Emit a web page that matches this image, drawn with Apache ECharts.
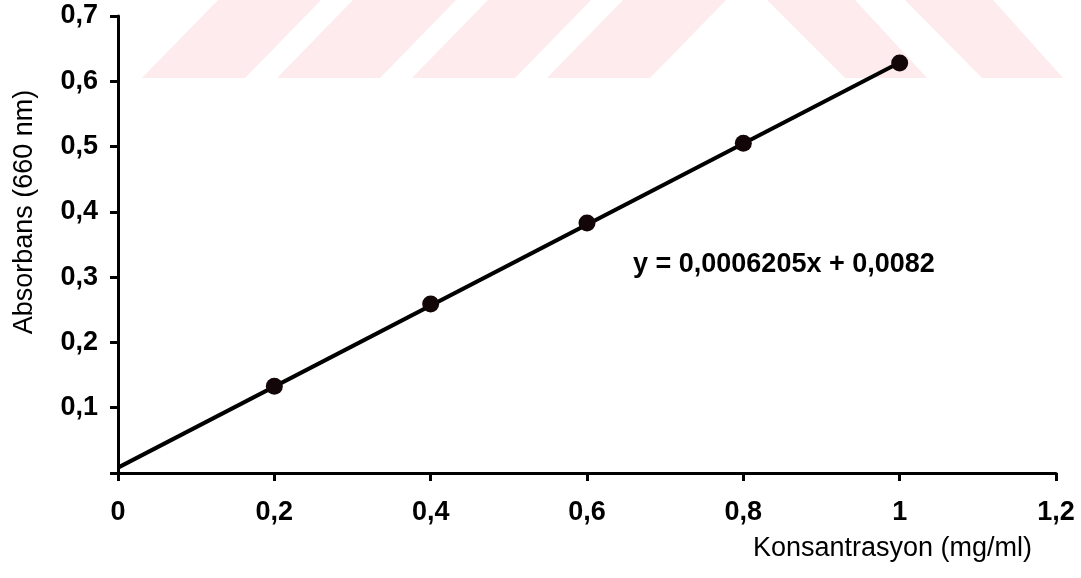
<!DOCTYPE html>
<html>
<head>
<meta charset="utf-8">
<script src="https://cdn.jsdelivr.net/npm/echarts@6/dist/echarts.min.js"></script>
<style>
html,body{margin:0;padding:0;background:#fff;}
#chart{width:1081px;height:578px;}
</style>
</head>
<body>
<div id="chart"></div>
<script>
// Data
const concentrations = [0.2, 0.4, 0.6, 0.8, 1.0];
const absorbance = [0.133, 0.259, 0.383, 0.505, 0.628];
const fitX = [0, 1.0];
const fitY = [0.0082, 0.6287];
const xAxisName = 'Konsantrasyon (mg/ml)';
const yAxisName = 'Absorbans (660 nm)';
const equationText = 'y = 0,0006205x + 0,0082';

const fmt = v => (v === 0 ? '0' : String(+v.toFixed(1)).replace('.', ','));

// Background watermark stripes (decorative)
const pink = '#fdebee';
const stripes = [];
const slashBottoms = [142, 277, 412, 547];
slashBottoms.forEach(b => {
  stripes.push({type:'polygon', shape:{points:[[b,78],[b+103,78],[b+103+76,0],[b+76,0]]}, style:{fill:pink}, z:0});
});
stripes.push({type:'polygon', shape:{points:[[767,0],[855,0],[927,78],[845,78]]}, style:{fill:pink}, z:0});
stripes.push({type:'polygon', shape:{points:[[905,0],[993,0],[1063,78],[982,78]]}, style:{fill:pink}, z:0});

const chart = echarts.init(document.getElementById('chart'), null, {renderer:'canvas'});
const font = '"Liberation Sans", Arial, sans-serif';
chart.setOption({
  backgroundColor: '#fff',
  animation: false,
  grid: {left:118, right:25, top:16, bottom:105, containLabel:false},
  xAxis: {
    type:'value', min:0, max:1.2, interval:0.2,
    axisLine:{show:true, onZero:false, lineStyle:{color:'#000', width:3}},
    axisTick:{show:true, length:8, lineStyle:{color:'#000', width:3}},
    splitLine:{show:false},
    axisLabel:{margin:26, color:'#000', fontFamily:font, fontWeight:'bold', fontSize:27, formatter:fmt}
  },
  yAxis: {
    type:'value', min:0, max:0.7, interval:0.1,
    axisLine:{show:true, onZero:false, lineStyle:{color:'#000', width:3}},
    axisTick:{show:true, length:8, lineStyle:{color:'#000', width:3}},
    splitLine:{show:false},
    axisLabel:{margin:20, color:'#000', fontFamily:font, fontWeight:'bold', fontSize:27,
      formatter: v => (v === 0 ? '' : fmt(v))}
  },
  graphic: stripes.concat([
    {type:'text', x:25, y:212, rotation:Math.PI/2, z:10,
     style:{text:yAxisName, align:'center', verticalAlign:'middle', fill:'#000', font:'27px ' + font}},
    {type:'text', x:1032, y:549, z:10,
     style:{text:xAxisName, align:'right', verticalAlign:'middle', fill:'#000', font:'27px ' + font}},
    {type:'text', x:633, y:265, z:10,
     style:{text:equationText, align:'left', verticalAlign:'middle', fill:'#000', font:'bold 27px ' + font}}
  ]),
  series: [
    {
      type:'line', data: fitX.map((x,i)=>[x, fitY[i]]),
      symbol:'none', lineStyle:{color:'#000', width:4}, z:3
    },
    {
      type:'scatter', data: concentrations.map((x,i)=>[x, absorbance[i]]),
      symbol:'circle', symbolSize:17, itemStyle:{color:'#120608', opacity:1}, z:4
    }
  ]
});
</script>
</body>
</html>
